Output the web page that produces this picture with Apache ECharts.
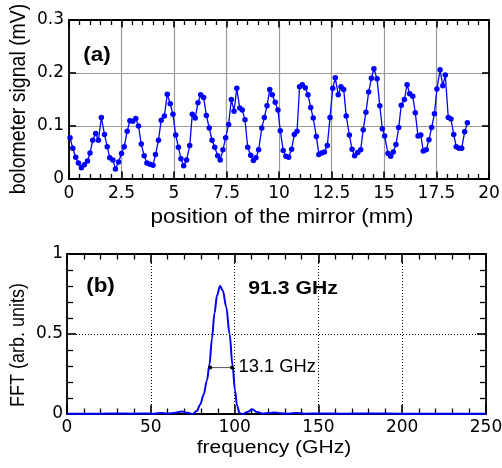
<!DOCTYPE html>
<html>
<head>
<meta charset="utf-8">
<script src="https://cdn.jsdelivr.net/npm/echarts@6/dist/echarts.min.js"></script>
<style>
  html, body { margin: 0; padding: 0; background: #fff; }
  #chart { width: 502px; height: 468px; }
</style>
</head>
<body>
<div id="chart"></div>
<script>
// (a) bolometer signal vs. mirror position
const mirrorPos = [
  0.05, 0.18, 0.32, 0.45, 0.59, 0.73, 0.88, 1.00, 1.13, 1.27, 1.40, 1.54, 1.69, 1.82, 1.94, 2.09, 2.21, 2.36, 2.50, 2.63,
  2.77, 2.90, 3.04, 3.18, 3.31, 3.44, 3.58, 3.71, 3.85, 4.00, 4.12, 4.26, 4.39, 4.54, 4.68, 4.82, 4.95, 5.08, 5.21, 5.33,
  5.46, 5.60, 5.75, 5.87, 6.01, 6.14, 6.27, 6.41, 6.54, 6.68, 6.81, 6.94, 7.08, 7.20, 7.33, 7.46, 7.60, 7.73, 7.86, 7.99,
  8.13, 8.25, 8.38, 8.51, 8.65, 8.78, 8.90, 9.03, 9.18, 9.30, 9.43, 9.56, 9.68, 9.82, 9.95, 10.06, 10.20, 10.33, 10.46, 10.60,
  10.73, 10.86, 10.98, 11.11, 11.25, 11.38, 11.51, 11.63, 11.78, 11.90, 12.03, 12.16, 12.30, 12.43, 12.56, 12.68, 12.82, 12.95, 13.08, 13.20,
  13.35, 13.48, 13.60, 13.75, 13.89, 14.01, 14.14, 14.27, 14.40, 14.52, 14.67, 14.80, 14.92, 15.03, 15.19, 15.32, 15.44, 15.57, 15.70, 15.82,
  15.97, 16.10, 16.22, 16.37, 16.49, 16.62, 16.75, 16.87, 17.01, 17.14, 17.27, 17.40, 17.52, 17.67, 17.80, 17.92, 18.06, 18.19, 18.32, 18.44,
  18.57, 18.70, 18.84, 18.97
];
const bolometerSignal = [
  0.078, 0.058, 0.041, 0.030, 0.021, 0.027, 0.034, 0.049, 0.073, 0.086, 0.073, 0.116, 0.084, 0.061, 0.040, 0.036, 0.019, 0.032, 0.048, 0.061,
  0.090, 0.110, 0.109, 0.114, 0.100, 0.066, 0.044, 0.030, 0.028, 0.026, 0.046, 0.073, 0.111, 0.119, 0.160, 0.142, 0.122, 0.083, 0.060, 0.038,
  0.025, 0.036, 0.063, 0.122, 0.115, 0.144, 0.159, 0.154, 0.120, 0.096, 0.073, 0.060, 0.044, 0.036, 0.055, 0.078, 0.103, 0.150, 0.128, 0.171,
  0.134, 0.130, 0.112, 0.060, 0.045, 0.035, 0.040, 0.055, 0.096, 0.116, 0.138, 0.169, 0.159, 0.145, 0.130, 0.091, 0.054, 0.043, 0.041, 0.056,
  0.084, 0.090, 0.174, 0.178, 0.172, 0.159, 0.135, 0.115, 0.080, 0.046, 0.049, 0.051, 0.063, 0.116, 0.171, 0.191, 0.159, 0.174, 0.169, 0.119,
  0.083, 0.056, 0.044, 0.050, 0.055, 0.093, 0.126, 0.164, 0.190, 0.208, 0.189, 0.138, 0.095, 0.081, 0.048, 0.043, 0.051, 0.065, 0.097, 0.139,
  0.150, 0.178, 0.161, 0.156, 0.125, 0.081, 0.083, 0.053, 0.055, 0.074, 0.097, 0.123, 0.170, 0.206, 0.176, 0.196, 0.116, 0.113, 0.084, 0.061,
  0.058, 0.058, 0.089, 0.106
];

// (b) FFT spectrum
const fftFreq = [
  0, 10, 20, 30, 40, 47, 52, 56, 60, 64, 68.5, 72, 75, 77.5, 79.5, 81.5, 83.5, 85, 86.5, 88,
  89.5, 91.3, 93, 95, 97, 98.8, 100.2, 101.4, 103, 105, 107.5, 110.5, 113.5, 117, 120.5, 124, 128, 132, 137, 142,
  150, 165, 180, 200, 225, 250
];
const fftAmp = [
  0.002, 0.002, 0.002, 0.003, 0.002, 0.003, 0.002, 0.006, 0.003, 0.007, 0.015, 0.008, 0.000, 0.020, 0.060, 0.120, 0.210, 0.310, 0.470, 0.630,
  0.740, 0.800, 0.770, 0.670, 0.500, 0.300, 0.150, 0.055, 0.005, 0.000, 0.012, 0.030, 0.012, 0.002, 0.007, 0.010, 0.004, 0.002, 0.007, 0.002,
  0.003, 0.002, 0.003, 0.002, 0.002, 0.002
];

// FWHM marker (13.1 GHz wide) and peak label
const fwhmFreq = [85.4, 98.5];
const fwhmLevel = [0.29, 0.29];
const peakLabel = '91.3 GHz';
const fwhmLabel = '13.1 GHz';

// tick label values
const xTicksA = [0, 2.5, 5, 7.5, 10, 12.5, 15, 17.5, 20];
const yTicksA = [0, 0.1, 0.2, 0.3];
const xTicksB = [0, 50, 100, 150, 200, 250];
const yTicksB = [0, 0.5, 1];

const zip = (xs, ys) => xs.map((x, i) => [x, ys[i]]);

const tickFont = { fontFamily: 'DejaVu Sans', fontSize: 17, color: '#000' };
const BLACK = '#000';

function makeAxis(cfg) {
  const ticks = cfg.ticks;
  return {
    type: 'value',
    gridIndex: cfg.grid,
    position: cfg.position,
    min: ticks[0],
    max: ticks[ticks.length - 1],
    interval: ticks[1] - ticks[0],
    axisLine: { show: true, onZero: false, lineStyle: { color: BLACK, width: 1.8 } },
    axisTick: { show: true, inside: true, length: cfg.tickLen, lineStyle: { color: BLACK, width: 1.6 } },
    minorTick: cfg.minor
      ? { show: true, splitNumber: 5, length: cfg.minorLen, lineStyle: { color: BLACK, width: 1.3 } }
      : { show: false },
    splitLine: cfg.split ? { show: true, lineStyle: cfg.split } : { show: false },
    axisLabel: cfg.labels
      ? Object.assign({ show: true, margin: cfg.margin, showMinLabel: true, showMaxLabel: true,
          padding: cfg.pad || 0,
          formatter: v => String(+v.toFixed(2)) }, tickFont)
      : { show: false },
    axisPointer: { show: false }
  };
}

const graySplit = { color: '#9a9a9a', width: 1.2, type: 'solid' };
const dotSplit = { color: '#000', width: 1, type: [1, 2] };

const xAxes = [
  makeAxis({ grid: 0, position: 'bottom', ticks: xTicksA, tickLen: 7.5, minor: true, minorLen: 5, split: graySplit, labels: true, margin: 6 }),
  makeAxis({ grid: 0, position: 'top', ticks: xTicksA, tickLen: 7.5, minor: true, minorLen: 5, split: null, labels: false }),
  makeAxis({ grid: 1, position: 'bottom', ticks: xTicksB, tickLen: 9, minor: true, minorLen: 5.5, split: dotSplit, labels: true, margin: 5 }),
  makeAxis({ grid: 1, position: 'top', ticks: xTicksB, tickLen: 9, minor: true, minorLen: 5.5, split: null, labels: false })
];
const yAxes = [
  makeAxis({ grid: 0, position: 'left', ticks: yTicksA, tickLen: 7, minor: false, split: graySplit, labels: true, margin: 5, pad: [6, 0, 0, 0] }),
  makeAxis({ grid: 0, position: 'right', ticks: yTicksA, tickLen: 7, minor: false, split: null, labels: false }),
  makeAxis({ grid: 1, position: 'left', ticks: yTicksB, tickLen: 9, minor: true, minorLen: 6, split: dotSplit, labels: true, margin: 4 }),
  makeAxis({ grid: 1, position: 'right', ticks: yTicksB, tickLen: 9, minor: true, minorLen: 6, split: null, labels: false })
];

function txt(text, x, y, o) {
  o = o || {};
  const font = (o.bold ? 'bold ' : '') + o.size + 'px "Liberation Sans", Arial, sans-serif';
  return {
    type: 'text',
    x: x, y: y,
    rotation: o.rot || 0,
    scaleX: o.sx || 1,
    scaleY: o.sy || 1,
    z: 100,
    silent: true,
    style: {
      text: text,
      x: 0, y: 0,
      font: font,
      fill: '#000',
      align: o.align || 'center',
      textAlign: o.align || 'center',
      verticalAlign: 'middle',
      textVerticalAlign: 'middle'
    }
  };
}

const option = {
  animation: false,
  backgroundColor: '#fff',
  grid: [
    { left: 69, top: 20, width: 420, height: 159, outerBoundsMode: 'none', containLabel: false },
    { left: 67, top: 254, width: 419, height: 160, outerBoundsMode: 'none', containLabel: false }
  ],
  xAxis: xAxes,
  yAxis: yAxes,
  series: [
    {
      type: 'line',
      xAxisIndex: 0, yAxisIndex: 0,
      data: zip(mirrorPos, bolometerSignal),
      symbol: 'circle',
      symbolSize: 5.5,
      showSymbol: true,
      lineStyle: { color: '#0000ff', width: 1.3 },
      itemStyle: { color: '#0000ff' },
      z: 5
    },
    {
      type: 'line',
      xAxisIndex: 2, yAxisIndex: 2,
      data: zip(fftFreq, fftAmp),
      smooth: 0.35,
      smoothMonotone: 'x',
      showSymbol: false,
      symbol: 'none',
      lineStyle: { color: '#0000ff', width: 2 },
      z: 5
    },
    {
      type: 'line',
      xAxisIndex: 2, yAxisIndex: 2,
      data: zip(fwhmFreq, fwhmLevel),
      symbol: 'circle',
      symbolSize: 4,
      lineStyle: { color: '#555', width: 1 },
      itemStyle: { color: '#000' },
      z: 6
    }
  ],
  graphic: [
    txt('position of the mirror (mm)', 282, 218, { size: 19.5, sx: 1.15 }),
    txt('bolometer signal (mV)', 19, 99, { size: 19.5, rot: Math.PI / 2, sy: 1.1 }),
    txt('frequency (GHz)', 274, 448, { size: 18, sx: 1.17 }),
    txt('FFT (arb. units)', 19, 345, { size: 18, rot: Math.PI / 2, sy: 1.1 }),
    txt('(a)', 97, 56, { size: 19.5, bold: true, sx: 1.15 }),
    txt('(b)', 100.5, 287, { size: 19.5, bold: true, sx: 1.15 }),
    txt(peakLabel, 293, 289.5, { size: 18, bold: true, sx: 1.18 }),
    txt(fwhmLabel, 238.5, 367.5, { size: 18, sx: 1.02, align: 'left' })
  ]
};

const chart = echarts.init(document.getElementById('chart'), null, { renderer: 'canvas' });
chart.setOption(option);
</script>
</body>
</html>
